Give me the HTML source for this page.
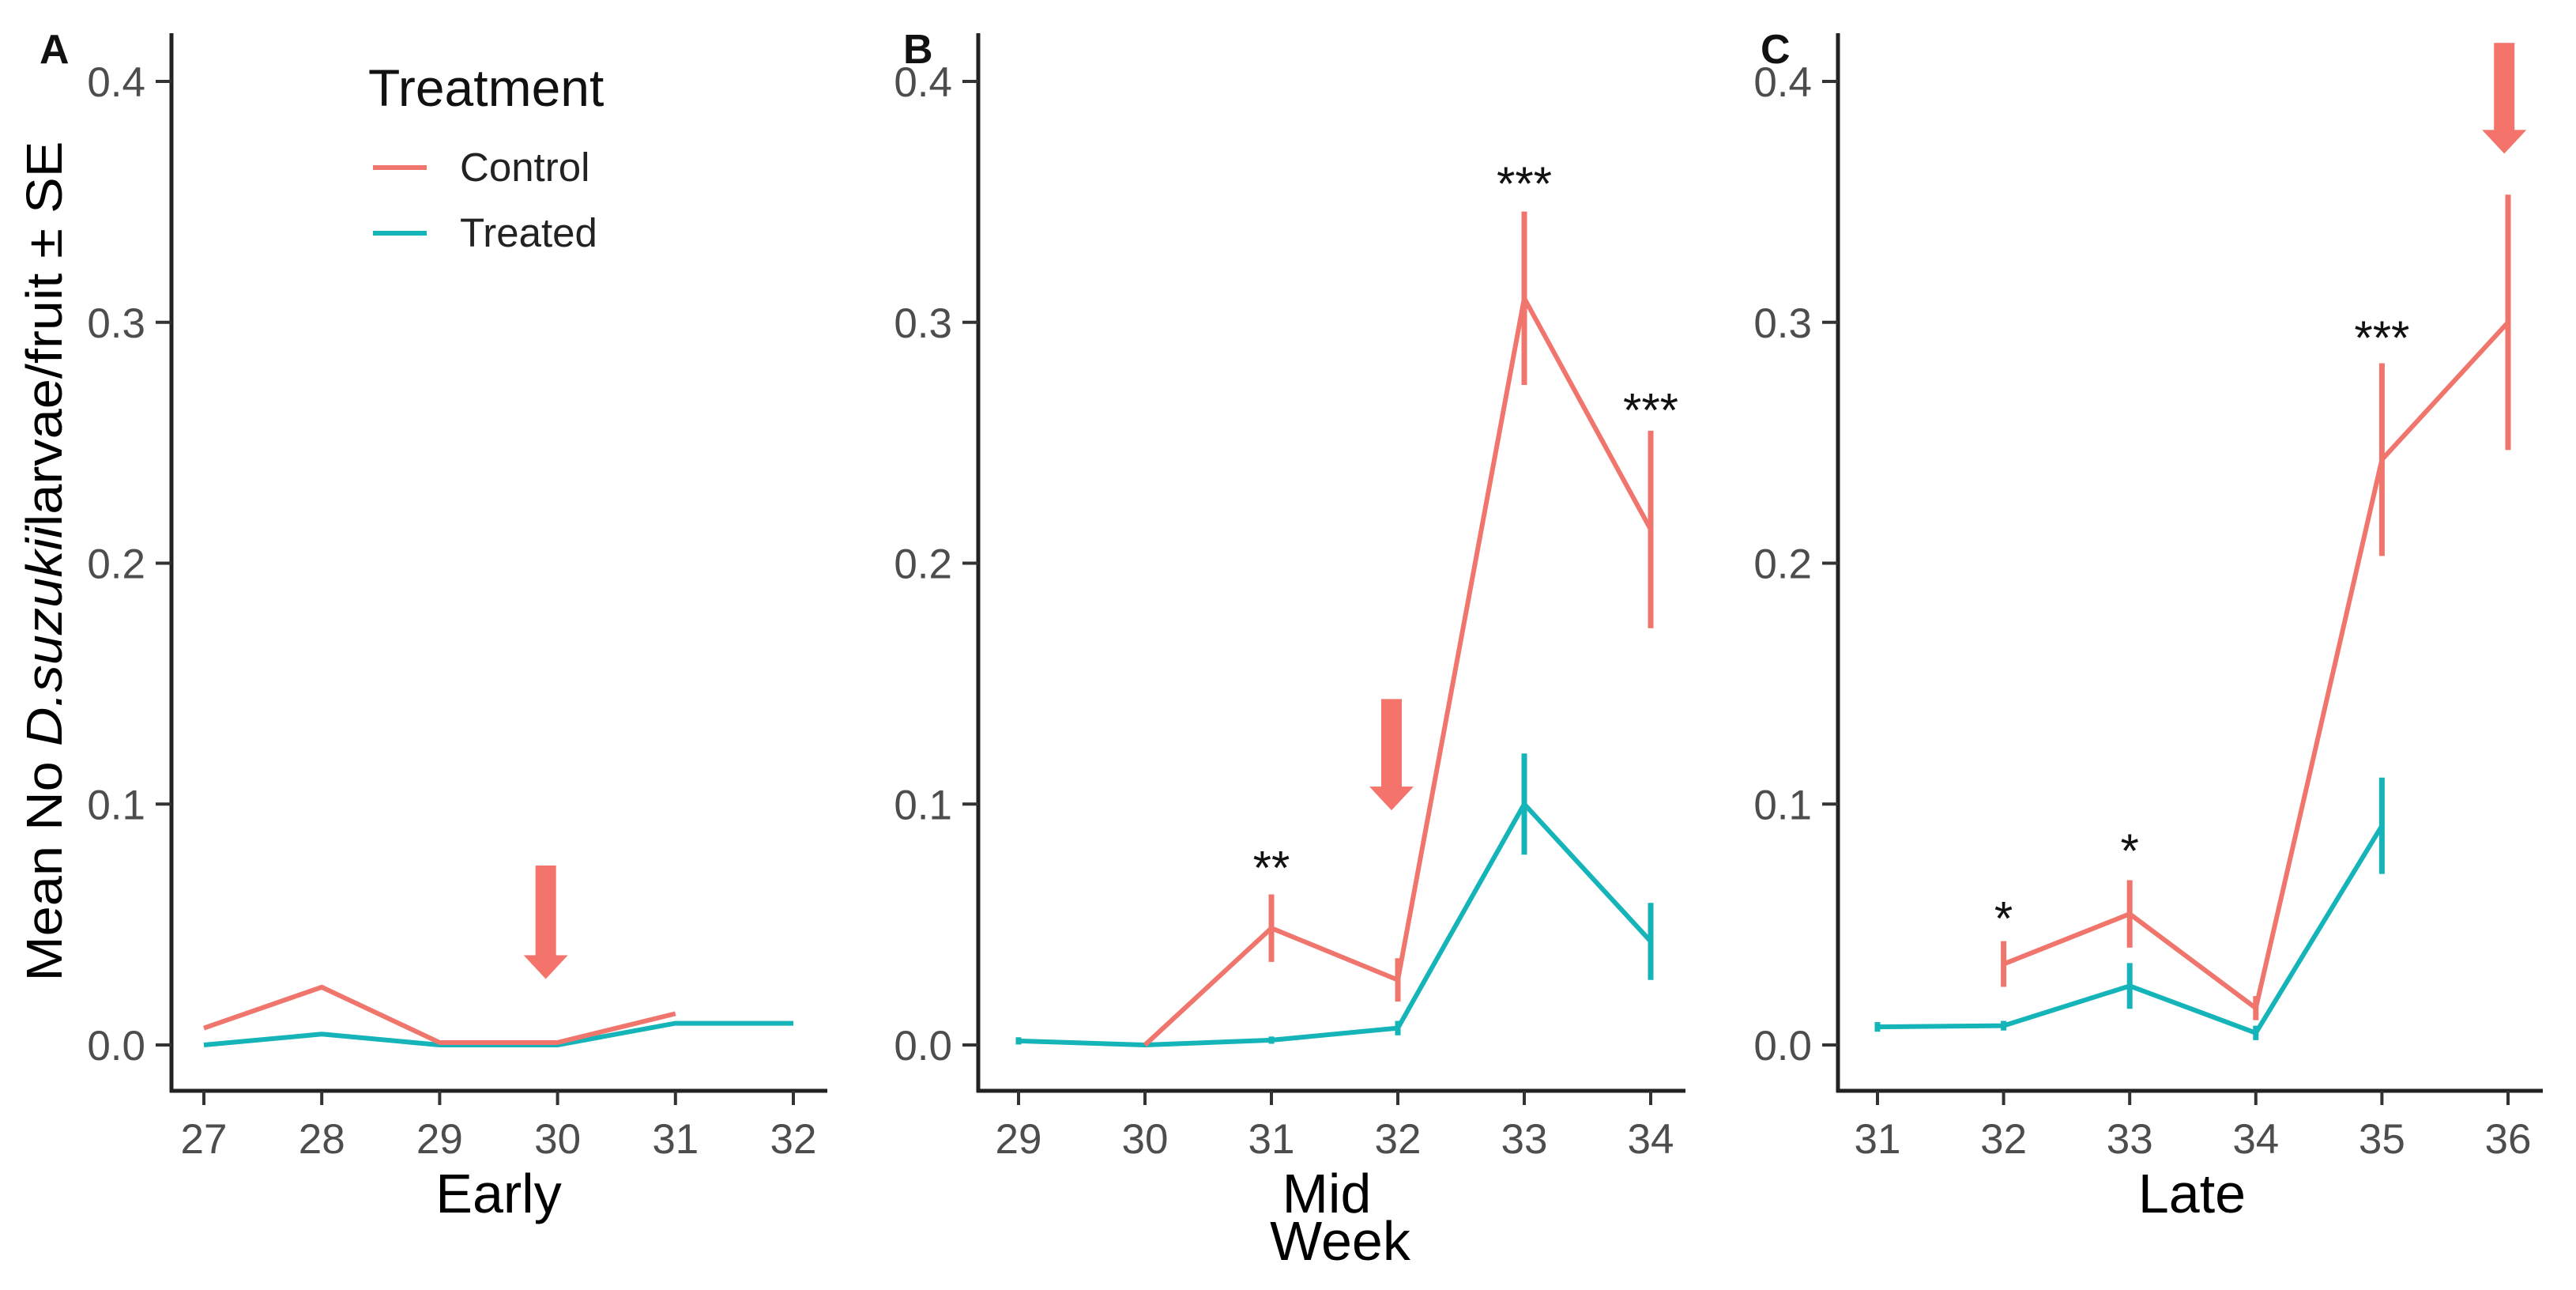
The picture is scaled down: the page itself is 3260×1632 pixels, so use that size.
<!DOCTYPE html>
<html><head><meta charset="utf-8"><style>
html,body{margin:0;padding:0;background:#fff}
svg{display:block;font-family:"Liberation Sans",sans-serif}
</style></head><body>
<svg id="chart" width="3260" height="1632" viewBox="0 0 3260 1632"></svg>
<script>
const weeksA=[27,28,29,30,31,32];
const weeksB=[29,30,31,32,33,34];
const weeksC=[31,32,33,34,35,36];
const yTicks=[0,0.1,0.2,0.3,0.4];
const yTickLabels=["0.0","0.1","0.2","0.3","0.4"];
// Panel A
const ctrlWeeksA=[27,28,29,30,31];
const ctrlA=[0.007,0.024,0.001,0.001,0.013];
const ctrlSEA=[0,0,0,0,0];
const trtWeeksA=[27,28,29,30,31,32];
const trtA=[0.0,0.0045,0,0,0.009,0.009];
const trtSEA=[0,0,0,0,0,0];
// Panel B
const ctrlWeeksB=[30,31,32,33,34];
const ctrlB=[0,0.0485,0.027,0.31,0.214];
const ctrlSEB=[0,0.014,0.009,0.036,0.041];
const trtWeeksB=[29,30,31,32,33,34];
const trtB=[0.0017,0,0.002,0.007,0.1,0.043];
const trtSEB=[0.0015,0,0.0015,0.003,0.021,0.016];
// Panel C
const ctrlWeeksC=[32,33,34,35,36];
const ctrlC=[0.0336,0.0544,0.0153,0.243,0.30];
const ctrlSEC=[0.0095,0.014,0.005,0.04,0.053];
const trtWeeksC=[31,32,33,34,35];
const trtC=[0.0075,0.008,0.0245,0.005,0.091];
const trtSEC=[0.002,0.002,0.0095,0.003,0.02];
// Significance stars
const starWeeksB=[31,33,34];
const starValsB=[0.076,0.36,0.266];
const starTextB=["**","***","***"];
const starWeeksC=[32,33,35];
const starValsC=[0.055,0.083,0.296];
const starTextC=["*","*","***"];
// Arrows
const arrowWeek=[29.9,31.95,35.97];
const arrowTop=[0.0745,0.1436,0.416];
const arrowTip=[0.0274,0.0974,0.37];

const NS="http://www.w3.org/2000/svg";
const svg=document.getElementById('chart');
function el(tag,attrs,parent,text){const e=document.createElementNS(NS,tag);for(const k in attrs)e.setAttribute(k,attrs[k]);if(text!==undefined)e.textContent=text;(parent||svg).appendChild(e);return e;}
const RED="#f0766d",TEAL="#14b4b9";
const y0=1322,yPer=3047.5;
function yS(v){return y0-v*yPer;}

const panels=[
 {id:'a',letter:'A',letterX:50,axisX:217,endX:1047,first:27,t0:258,step:149.2,weeks:weeksA,
  cw:ctrlWeeksA,c:ctrlA,cse:ctrlSEA,tw:trtWeeksA,t:trtA,tse:trtSEA,sw:[],sv:[],st:[],title:'Early',titleX:631,ai:0},
 {id:'b',letter:'B',letterX:1143,axisX:1238,endX:2133,first:29,t0:1289,step:160,weeks:weeksB,
  cw:ctrlWeeksB,c:ctrlB,cse:ctrlSEB,tw:trtWeeksB,t:trtB,tse:trtSEB,sw:starWeeksB,sv:starValsB,st:starTextB,title:'Mid',titleX:1679,ai:1},
 {id:'c',letter:'C',letterX:2228,axisX:2326,endX:3218,first:31,t0:2376,step:159.6,weeks:weeksC,
  cw:ctrlWeeksC,c:ctrlC,cse:ctrlSEC,tw:trtWeeksC,t:trtC,tse:trtSEC,sw:starWeeksC,sv:starValsC,st:starTextC,title:'Late',titleX:2774,ai:2}
];

panels.forEach(p=>{
  const g=el('g',{});
  
  
  const xS=w=>p.t0+(w-p.first)*p.step;
  const pl=el('text',{x:p.letterX,y:80,'font-size':52,'font-weight':'bold',fill:'#111'},g,p.letter);
  
  
  const ya=el('line',{x1:p.axisX,y1:42,x2:p.axisX,y2:1382,stroke:'#222','stroke-width':5},g);
  
  
  const xa=el('line',{x1:p.axisX-2,y1:1380,x2:p.endX,y2:1380,stroke:'#222','stroke-width':5},g);
  
  
  yTicks.forEach((v,i)=>{
    el('line',{x1:p.axisX-20,y1:yS(v),x2:p.axisX,y2:yS(v),stroke:'#333','stroke-width':4},g);
    const t=el('text',{x:p.axisX-33,y:yS(v)+19,'font-size':53,fill:'#4d4d4d','text-anchor':'end'},g,yTickLabels[i]);
    
    
  });
  p.weeks.forEach(w=>{
    el('line',{x1:xS(w),y1:1380,x2:xS(w),y2:1398,stroke:'#333','stroke-width':4},g);
    const t=el('text',{x:xS(w),y:1459,'font-size':53,fill:'#4d4d4d','text-anchor':'middle'},g,String(w));
    
    
  });
  const tt=el('text',{x:p.titleX,y:1534,'font-size':70,fill:'#000','text-anchor':'middle'},g,p.title);
  
  
  [[p.tw,p.t,p.tse,TEAL,'treated'],[p.cw,p.c,p.cse,RED,'control']].forEach(s=>{
    const [ws,vs,se,col,nm]=s;
    const pts=ws.map((w,i)=>xS(w)+','+yS(vs[i])).join(' ');
    const ln=el('polyline',{points:pts,fill:'none',stroke:col,'stroke-width':6,'stroke-linejoin':'round'},g);
    
    
    ws.forEach((w,i)=>{
      if(se[i]>0){
        const eb=el('line',{x1:xS(w),y1:yS(vs[i]+se[i]),x2:xS(w),y2:yS(vs[i]-se[i]),stroke:col,'stroke-width':7},g);
        
        
      }
    });
  });
  p.sw.forEach((w,i)=>{
    const st=el('text',{x:xS(w),y:yS(p.sv[i])+28,'font-size':60,fill:'#111','text-anchor':'middle'},g,p.st[i]);
    
    
  });
  const ax=xS(arrowWeek[p.ai]),top=yS(arrowTop[p.ai]),tip=yS(arrowTip[p.ai]);
  const hs=tip-30;
  const ar=el('polygon',{points:`${ax-13},${top} ${ax+13},${top} ${ax+13},${hs} ${ax+28},${hs} ${ax},${tip} ${ax-28},${hs} ${ax-13},${hs}`,fill:'#f4736a'},g);
  
  
});

const wk=el('text',{x:1696,y:1594,'font-size':70,fill:'#000','text-anchor':'middle'},svg,'Week');



const yl=el('text',{x:0,y:0,'font-size':64,fill:'#000','text-anchor':'middle',transform:'translate(78,710) rotate(-90)',textLength:1063,lengthAdjust:'spacingAndGlyphs'});


el('tspan',{},yl,'Mean No ');
el('tspan',{'font-style':'italic'},yl,'D.suzukii');
el('tspan',{},yl,'larvae/fruit ± SE');

const lg=el('g',{});


const lt=el('text',{x:466,y:134,'font-size':66,fill:'#111'},lg,'Treatment');


[['Control',RED,212],['Treated',TEAL,295]].forEach(r=>{
  const e=el('g',{},lg);
  
  
  el('line',{x1:472,y1:r[2],x2:540,y2:r[2],stroke:r[1],'stroke-width':6},e);
  el('text',{x:582,y:r[2]+17,'font-size':51,fill:'#222'},e,r[0]);
});
</script>
</body></html>
